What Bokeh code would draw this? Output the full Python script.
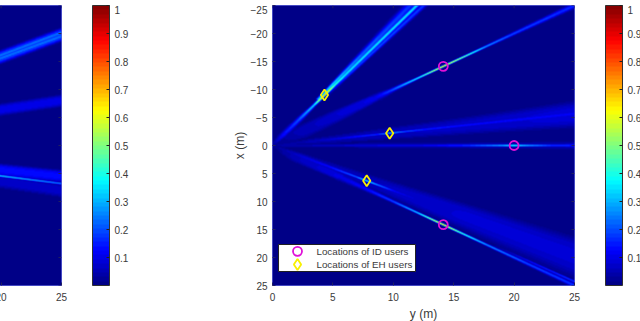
import numpy as np
from bokeh.core.properties import value
from bokeh.embed import file_html
from bokeh.resources import INLINE
from bokeh.plotting import figure
from bokeh.layouts import row
from bokeh.models import Range1d, LinearColorMapper, ColorBar, FixedTicker

# --- values ---
x_ticks = [0, 5, 10, 15, 20, 25]
left_x_ticks = [20, 25]
v_ticks = [-25, -20, -15, -10, -5, 0, 5, 10, 15, 20, 25]
cb_ticks = [0.1, 0.2, 0.3, 0.4, 0.5, 0.6, 0.7, 0.8, 0.9, 1.0]
id_y = [14.14, 20.0, 14.14]
id_x = [-14.14, 0.0, 14.14]
eh_y = [4.3, 9.7, 7.8]
eh_x = [-9.0, -2.2, 6.3]
legend_labels = ["Locations of ID users", "Locations of EH users"]
key_y = [2.07]
key_id_x = [18.9]
key_eh_x = [21.25]
label_y = [3.64, 3.64]
label_x = [18.9, 21.25]

# beam layers: direction point (y, x), range stations, half width (m), level
a1 = (4.3, -9, [0, 2, 5, 8, 10, 12, 14], [.2, .3, .25, .14, .12, .14, .2], [.02, .13, .2, .36, .8, .45, .36])
a3 = (11.4, -25, [9, 12, 14, 18, 28], [.14, .16, .2, .28, .45], [.3, .36, .3, .22, .17])
a2 = (12.5, -25, [8, 14, 20, 28], [.2, .15, .2, .25], [0, .18, .2, .18])
b1 = (25, -25, [0, 3, 8, 12, 14, 17, 20, 23, 25, 28, 36], [.3, 1.0, .8, .5, .25, .12, .11, .12, .14, .2, .35], [.01, .05, .08, .1, .2, .42, .75, .5, .3, .2, .16])
c1 = (9.7, -2.2, [0, 3, 6, 9, 10, 11, 13, 18, 27], [.2, .4, .3, .14, .12, .14, .2, .3, .5], [.02, .05, .1, .2, .4, .25, .16, .13, .12])
c2 = (25, -5.5, [0, 10, 18, 27], [.3, 1.0, 1.5, 2.2], [.03, .06, .07, .09])
d1 = (20, 0, [0, 10, 13, 16, 19, 20, 21, 23, 27], [.3, .25, .2, .14, .12, .11, .12, .14, .15], [.03, .1, .12, .22, .42, .6, .42, .24, .17])
d2 = (25, 0, [0, 27], [.4, .6], [.03, .07])
e1 = (7.8, 6.3, [0, 3, 6, 9, 10, 11, 13, 16], [.2, .4, .25, .14, .12, .14, .2, .3], [.02, .08, .13, .25, .45, .3, .12, .06])
e2 = (25, 19.8, [0, 10, 20, 33], [.3, .9, 1.7, 2.7], [.03, .06, .08, .08])
f1 = (25, 25, [0, 3, 8, 11, 14, 17, 20, 22, 25, 30, 36], [.3, .8, .5, .3, .18, .12, .11, .12, .14, .2, .25], [.01, .06, .1, .13, .2, .38, .78, .5, .3, .2, .18])
f2 = (25, 24.3, [25, 30, 36], [.1, .12, .15], [0, .15, .2])
right_layers = [a1, a3, a2, b1, c1, c2, d1, d2, e1, e2, f1, f2]

g1 = (25, -19.8, [10, 33], [.85, .85], [.2, .2])
g2 = (25, -19.5, [10, 33], [.12, .12], [.28, .28])
g3 = (25, -20.2, [10, 33], [.12, .12], [.28, .28])
h1 = (25, -8, [10, 28], [.95, .95], [.1, .1])
k1 = (25, 5.5, [10, 27], [1.0, 1.0], [.13, .13])
k2 = (25, 6.8, [10, 21, 27], [.15, .15, .15], [.4, .38, .26])
k3 = (25, 8.0, [10, 27], [1.1, 1.1], [.07, .07])
left_layers = [g1, g2, g3, h1, k1, k2, k3]


def jet(n):
    out = []
    for i in range(n):
        t = (i + 0.5) / n
        r = np.clip(min(4 * t - 1.5, -4 * t + 4.5), 0, 1)
        g = np.clip(min(4 * t - 0.5, -4 * t + 3.5), 0, 1)
        b = np.clip(min(4 * t + 0.5, -4 * t + 2.5), 0, 1)
        out.append("#%02x%02x%02x" % (int(r * 255), int(g * 255), int(b * 255)))
    return out


def field(layers, ss=3):
    ys = (np.arange(302 * ss) + 0.5) / (302 * ss) * 25
    xs = (np.arange(280 * ss) + 0.5) / (280 * ss) * 50 - 25
    Y, X = np.meshgrid(ys, xs)
    out = np.full(Y.shape, 0.012)
    for dy, dx, st, wd, lv in layers:
        n = np.hypot(dy, dx)
        ux, uy = dy / n, dx / n
        along = Y * ux + X * uy
        d = np.abs(-Y * uy + X * ux)
        w = np.interp(along, st, wd)
        v = np.interp(along, st, lv, left=0, right=lv[-1])
        power = np.where(w < 0.5, 2, 4)
        out = np.maximum(out, v * np.exp(-(d / w) ** power) * (along > 0))
    return out.reshape(280, ss, 302, ss).mean(axis=(1, 3))


mapper = LinearColorMapper(palette=jet(64), low=0, high=1)
FONT = "Liberation Sans"
TXT = "#3a3a3a"
EDGE = "#5c62d8"
TICK = "#202060"
MAGENTA = "#e010d8"
YELLOW = "#f8f000"


def panel(layers, show_y, ticks):
    p = figure(frame_width=302, frame_height=280, output_backend="svg", toolbar_location=None,
               x_range=Range1d(0, 25), y_range=Range1d(25, -25),
               min_border_left=0, min_border_right=0, min_border_top=0, min_border_bottom=0,
               background_fill_color=None, border_fill_color=None)
    p.grid.visible = False
    p.outline_line_color = EDGE
    p.image(image=[field(layers)], x=0, y=-25, dw=25, dh=50, color_mapper=mapper)
    for ax in (p.xaxis[0], p.yaxis[0]):
        ax.major_tick_in, ax.major_tick_out, ax.minor_tick_in, ax.minor_tick_out = 3, 0, 0, 0
        ax.axis_line_color = None
        ax.major_tick_line_color = TICK
        ax.major_label_text_font = FONT
        ax.major_label_text_font_size = "10px"
        ax.major_label_text_color = TXT
        ax.major_label_standoff = 5
        ax.axis_label_text_font = FONT
        ax.axis_label_text_font_size = "12px"
        ax.axis_label_text_font_style = "normal"
        ax.axis_label_text_color = TXT
    p.xaxis[0].ticker = FixedTicker(ticks=ticks)
    p.xaxis[0].major_label_standoff = 7
    p.xaxis[0].axis_label_standoff = 3
    p.yaxis[0].axis_label_standoff = 1
    p.yaxis[0].ticker = FixedTicker(ticks=v_ticks)
    if not show_y:
        p.yaxis[0].visible = False
    # box ticks on the top and right edges, as in the reference
    p.segment(ticks, [-25] * len(ticks), ticks, [-24.5] * len(ticks), line_color=TICK)
    p.segment([25] * len(v_ticks), v_ticks, [24.75] * len(v_ticks), v_ticks, line_color=TICK)
    cb = ColorBar(color_mapper=mapper, ticker=FixedTicker(ticks=cb_ticks), width=17, height=280,
                  margin=0, padding=0, major_tick_in=3, major_tick_out=0, minor_tick_out=0,
                  major_tick_line_color="#202020", bar_line_color="#303030",
                  major_label_text_font=FONT, major_label_text_font_size="10px",
                  major_label_text_color=TXT, label_standoff=5,
                  location=(31, 0), background_fill_color=None, border_line_color=None)
    p.add_layout(cb, "right")
    return p


left = panel(left_layers, False, left_x_ticks)

right = panel(right_layers, True, x_ticks)
right.xaxis[0].axis_label = "y (m)"
right.yaxis[0].axis_label = "x (m)"
right.scatter(id_y, id_x, marker="circle", size=9, fill_color=None,
              line_color=MAGENTA, line_width=1.8)
right.scatter(eh_y, eh_x, marker="diamond", size=11, fill_color=None,
              line_color=YELLOW, line_width=1.8)

# legend box, keys and labels
right.quad(left=[0.5], right=[11.84], top=[17.68], bottom=[22.5], fill_color="white",
           line_color="#202020", line_width=1)
right.scatter(key_y, key_id_x, marker="circle", size=9, fill_color=None,
              line_color=MAGENTA, line_width=1.8)
right.scatter(key_y, key_eh_x, marker="diamond", size=11, fill_color=None,
              line_color=YELLOW, line_width=1.8)
right.text(label_y, label_x, text=legend_labels, text_font=value(FONT), text_font_size="9.8px",
           text_color=TXT, text_baseline="middle", text_align="left")

left.margin = (5, 0, 0, -241)
right.margin = (5, 0, 0, 98)
page = row(left, right)
open("out.html", "w").write(file_html(page, INLINE))
